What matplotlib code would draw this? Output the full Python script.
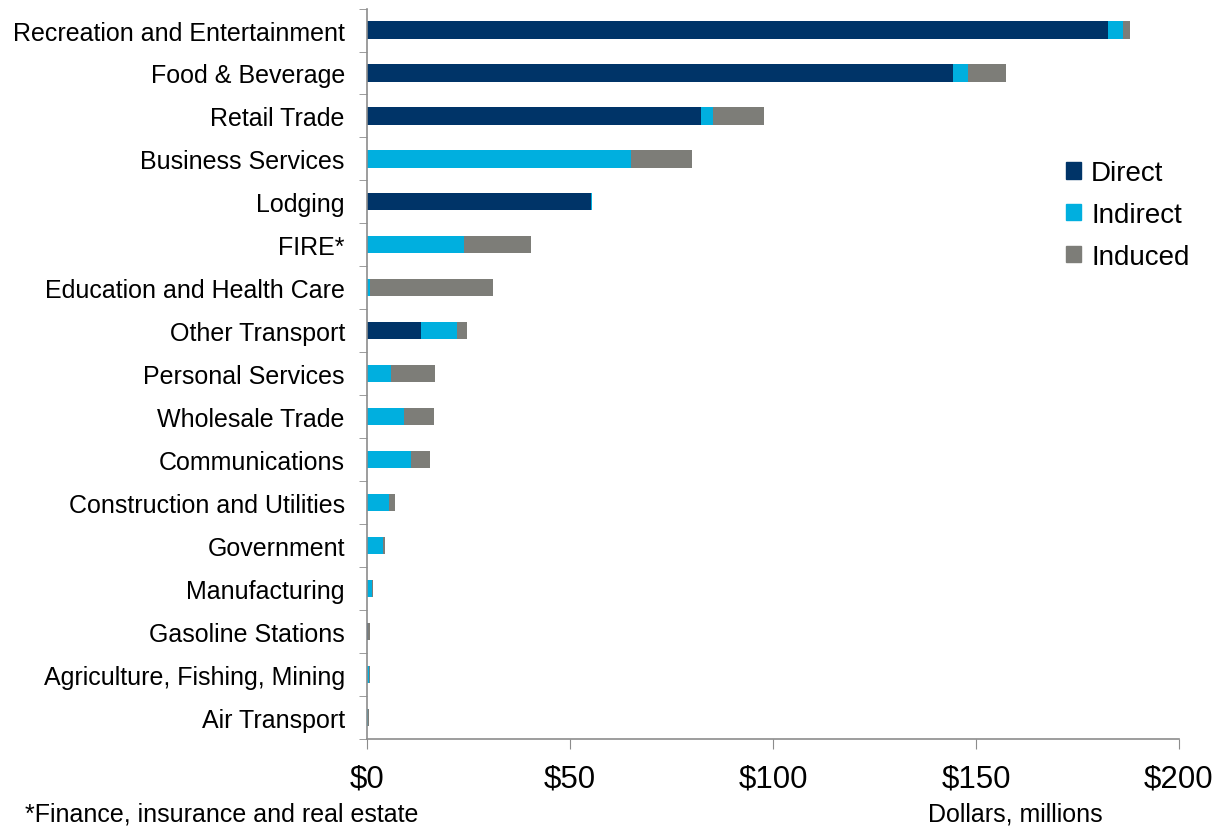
import matplotlib
matplotlib.use("Agg")
import matplotlib.pyplot as plt
import numpy as np
from matplotlib.patches import Patch

# ---- data (dollars, millions) ----
categories = ["Recreation and Entertainment", "Food & Beverage", "Retail Trade",
              "Business Services", "Lodging", "FIRE*", "Education and Health Care",
              "Other Transport", "Personal Services", "Wholesale Trade",
              "Communications", "Construction and Utilities", "Government",
              "Manufacturing", "Gasoline Stations", "Agriculture, Fishing, Mining",
              "Air Transport"]
direct = [182.4, 144.3, 82.3, 0.0, 55.1, 0.0, 0.0, 13.2, 0.0, 0.0,
          0.0, 0.0, 0.0, 0.0, 0.2, 0.0, 0.1]
indirect = [3.8, 3.8, 2.9, 65.0, 0.3, 24.0, 0.8, 8.9, 5.9, 9.1,
            10.9, 5.4, 3.9, 1.3, 0.1, 0.5, 0.1]
induced = [1.7, 9.2, 12.6, 15.0, 0.0, 16.5, 30.2, 2.5, 10.8, 7.3,
           4.7, 1.5, 0.6, 0.2, 0.5, 0.3, 0.3]
series_names = ["Direct", "Indirect", "Induced"]
xticks = [0, 50, 100, 150, 200]

c_direct = "#003468"
c_indirect = "#00afdf"
c_induced = "#7d7d78"

plt.rcParams['font.family'] = ['Liberation Sans', 'DejaVu Sans']

fig = plt.figure(figsize=(12.2, 8.29), dpi=100)
ax = fig.add_axes([0.3008, 0.1074, 0.6656, 0.8811])

y = np.arange(len(categories))
d = np.array(direct)
i_ = np.array(indirect)
n = np.array(induced)
h = 0.4
ax.barh(y, d, height=h, color=c_direct, label=series_names[0])
ax.barh(y, i_, left=d, height=h, color=c_indirect, label=series_names[1])
ax.barh(y, n, left=d + i_, height=h, color=c_induced, label=series_names[2])

ax.set_ylim(len(categories) - 0.5, -0.5)
ax.set_xlim(0, 200)
ax.set_yticks(y)
ax.set_yticklabels(categories, fontsize=18)
ax.set_yticks(np.arange(-0.5, len(categories), 1), minor=True)
ax.tick_params(axis='y', which='major', length=0, pad=16)
ax.tick_params(axis='y', which='minor', length=6, color='#8c8c8c', direction='out')
ax.set_xticks(xticks)
ax.set_xticklabels(["$%d" % v for v in xticks], fontsize=22.5)
ax.tick_params(axis='x', length=7, color='#8c8c8c', pad=11)

for s in ['top', 'right']:
    ax.spines[s].set_visible(False)
for s in ['left', 'bottom']:
    ax.spines[s].set_color('#8c8c8c')
    ax.spines[s].set_linewidth(1.2)

# legend placed by figure pixels
handles = [Patch(color=c) for c in (c_direct, c_indirect, c_induced)]
leg = fig.legend(handles, series_names, loc='upper left',
                 bbox_to_anchor=(1055 / 1220, 1 - 150 / 829), borderaxespad=0,
                 frameon=False, fontsize=20, handlelength=0.55, handleheight=0.55,
                 handletextpad=0.35, labelspacing=0.57)

fig.text(25 / 1220, 1 - 815 / 829, "*Finance, insurance and real estate", fontsize=18,
         va='center', ha='left')
fig.text(928 / 1220, 1 - 815 / 829, "Dollars, millions", fontsize=18,
         va='center', ha='left')

fig.savefig("out.png", dpi=100)
